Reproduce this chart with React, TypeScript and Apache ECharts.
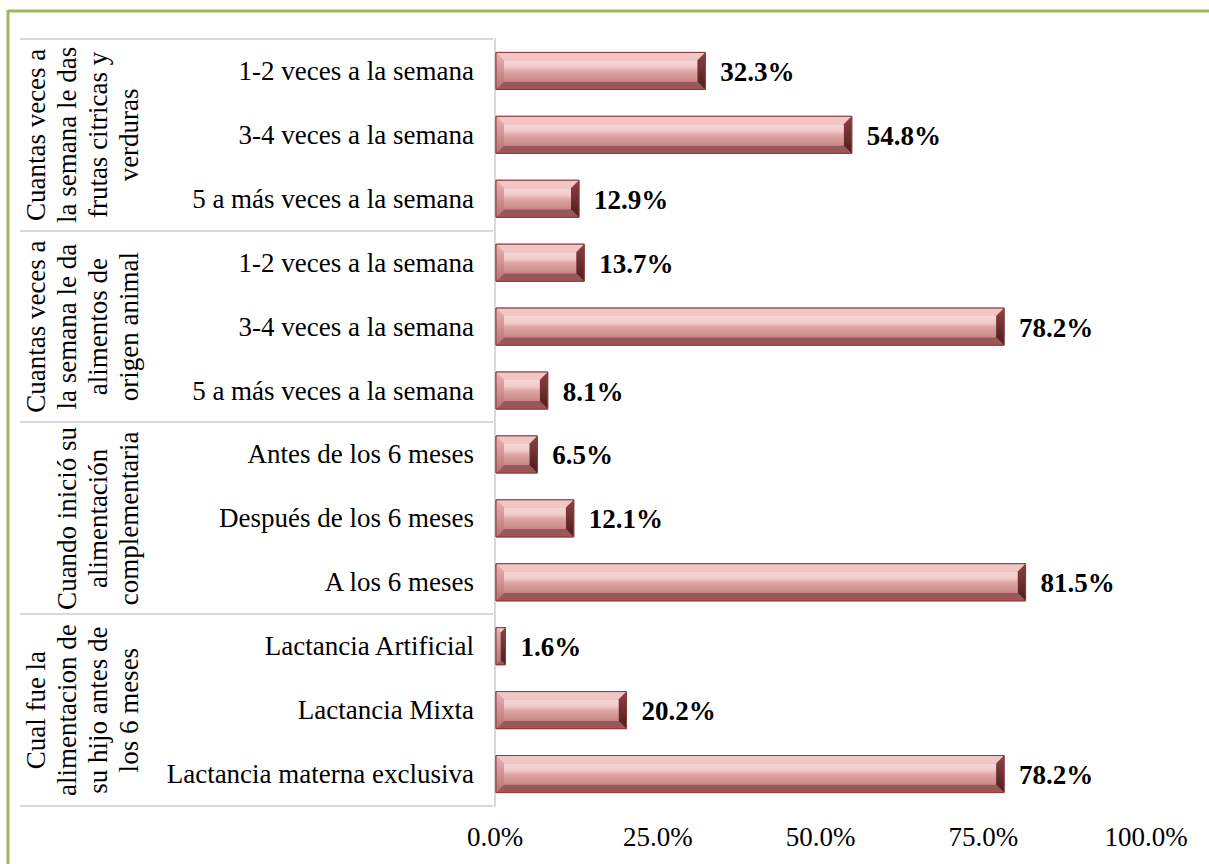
import React, { useEffect, useRef } from "react";
import * as echarts from "echarts";

const categories: string[] = [
  "1-2 veces a la semana",
  "3-4 veces a la semana",
  "5 a más veces a la semana",
  "1-2 veces a la semana",
  "3-4 veces a la semana",
  "5 a más veces a la semana",
  "Antes de los 6 meses",
  "Después de los 6 meses",
  "A los 6 meses",
  "Lactancia Artificial",
  "Lactancia Mixta",
  "Lactancia materna exclusiva",
];

const values: number[] = [32.3, 54.8, 12.9, 13.7, 78.2, 8.1, 6.5, 12.1, 81.5, 1.6, 20.2, 78.2];

const groupLabels: string[] = [
  "Cuantas veces a\nla semana le das\nfrutas citricas y\nverduras",
  "Cuantas veces a\nla semana le da\nalimentos de\norigen animal",
  "Cuando inició su\nalimentación\ncomplementaria",
  "Cual fue la\nalimentacion de\nsu hijo antes de\nlos 6 meses",
];
const groupSize = 3;

const xTicks: number[] = [0, 25, 50, 75, 100];

const FONT = "Liberation Serif";
const FS = 27;

export default function App() {
  const ref = useRef<HTMLDivElement>(null);
  useEffect(() => {
    if (!ref.current) return;
    const chart = echarts.init(ref.current, undefined, { renderer: "svg" });
    const data = values.map((v, i) => [v, i]);
    chart.setOption({
      animation: false,
      backgroundColor: "#ffffff",
      grid: { left: 495, right: 63, top: 39, bottom: 58, containLabel: false },
      xAxis: {
        type: "value",
        min: xTicks[0],
        max: xTicks[xTicks.length - 1],
        interval: xTicks[1] - xTicks[0],
        axisLine: { show: false },
        axisTick: { show: false },
        splitLine: { show: false },
        axisLabel: {
          color: "#000",
          fontSize: FS,
          fontFamily: FONT,
          margin: 17,
          formatter: (v: number) => v.toFixed(1) + "%",
        },
      },
      yAxis: {
        type: "category",
        inverse: true,
        data: categories.map((_, i) => String(i)),
        axisLine: { show: true, lineStyle: { color: "#d9d9d9", width: 2 } },
        axisTick: { show: false },
        axisLabel: {
          color: "#000",
          fontSize: FS,
          fontFamily: FONT,
          margin: 21,
          formatter: (_v: string, i: number) => categories[i],
        },
      },
      series: [
        {
          type: "custom",
          clip: false,
          encode: { x: 0, y: 1 },
          data,
          renderItem: (params: any, api: any) => {
            const v = api.value(0);
            const idx = api.value(1);
            const s = api.coord([0, idx]);
            const e = api.coord([v, idx]);
            const band = api.size([0, 1])[1];
            const h = band * 0.58;
            const x0 = s[0] + 1;
            const x1 = e[0];
            const yc = s[1];
            const y0 = yc - h / 2;
            const y1 = yc + h / 2;
            const w = x1 - x0;
            const b = Math.min(8, w / 2, h / 2);
            return {
              type: "group",
              children: [
                {
                  type: "rect",
                  shape: { x: x0, y: y0, width: w, height: h },
                  style: { fill: "#d89a9a", stroke: "#8e3a3a", lineWidth: 1 },
                },
                {
                  type: "polygon",
                  shape: { points: [[x0, y0], [x1, y0], [x1 - b, y0 + b], [x0 + b, y0 + b]] },
                  style: { fill: "#f2c6c6" },
                },
                {
                  type: "polygon",
                  shape: { points: [[x0, y1], [x1, y1], [x1 - b, y1 - b], [x0 + b, y1 - b]] },
                  style: { fill: "#9c5656" },
                },
                {
                  type: "polygon",
                  shape: { points: [[x0, y0], [x0 + b, y0 + b], [x0 + b, y1 - b], [x0, y1]] },
                  style: {
                    fill: new echarts.graphic.LinearGradient(0, 0, 0, 1, [
                      { offset: 0, color: "#e8b4b4" },
                      { offset: 1, color: "#b57272" },
                    ]),
                  },
                },
                {
                  type: "polygon",
                  shape: { points: [[x1, y0], [x1 - b, y0 + b], [x1 - b, y1 - b], [x1, y1]] },
                  style: {
                    fill: new echarts.graphic.LinearGradient(0, 0, 0, 1, [
                      { offset: 0, color: "#8a4444" },
                      { offset: 1, color: "#4e1c1c" },
                    ]),
                  },
                },
                {
                  type: "rect",
                  shape: { x: x0 + b, y: y0 + b, width: Math.max(0, w - 2 * b), height: h - 2 * b },
                  style: {
                    fill: new echarts.graphic.LinearGradient(0, 0, 0, 1, [
                      { offset: 0, color: "#f7d6d6" },
                      { offset: 0.3, color: "#f3caca" },
                      { offset: 0.55, color: "#dca2a2" },
                      { offset: 1, color: "#c98888" },
                    ]),
                  },
                },
                {
                  type: "rect",
                  shape: { x: x0, y: y0, width: w, height: h },
                  style: { fill: "none", stroke: "#8e3a3a", lineWidth: 1 },
                },
                {
                  type: "text",
                  style: {
                    text: v.toFixed(1) + "%",
                    x: x1 + 15,
                    y: yc + 1,
                    verticalAlign: "middle",
                    align: "left",
                    font: "bold " + FS + "px '" + FONT + "'",
                    fill: "#000",
                  },
                },
              ],
            };
          },
        },
      ],
    });

    const c0 = chart.convertToPixel({ yAxisIndex: 0 }, 0) as number;
    const c1 = chart.convertToPixel({ yAxisIndex: 0 }, 1) as number;
    const bandH = c1 - c0;
    const topY = c0 - bandH / 2;
    const axisX = chart.convertToPixel({ xAxisIndex: 0 }, 0) as number;
    const elements: any[] = [
      { type: "line", shape: { x1: 8, y1: 11, x2: 1209, y2: 11 }, style: { stroke: "#9bbb59", lineWidth: 3 } },
      { type: "line", shape: { x1: 8, y1: 10, x2: 8, y2: 864 }, style: { stroke: "#9bbb59", lineWidth: 3 } },
    ];
    const nGroups = groupLabels.length;
    for (let g = 0; g <= nGroups; g++) {
      const y = Math.round(topY + g * groupSize * bandH);
      elements.push({
        type: "line",
        shape: { x1: 20, y1: y, x2: axisX - 2, y2: y },
        style: { stroke: "#d9d9d9", lineWidth: 2 },
      });
    }
    for (let g = 0; g < nGroups; g++) {
      const yc = topY + (g + 0.5) * groupSize * bandH;
      elements.push({
        type: "text",
        x: 144,
        y: yc,
        rotation: Math.PI / 2,
        style: {
          text: groupLabels[g],
          x: 0,
          y: 0,
          align: "center",
          verticalAlign: "bottom",
          font: FS + "px '" + FONT + "'",
          lineHeight: 31,
          fill: "#000",
        },
      });
    }
    chart.setOption({ graphic: { elements } });

    return () => chart.dispose();
  }, []);
  return (
    <div
      ref={ref}
      style={{ position: "fixed", left: 0, top: 0, width: 1209, height: 864, background: "#fff" }}
    />
  );
}
